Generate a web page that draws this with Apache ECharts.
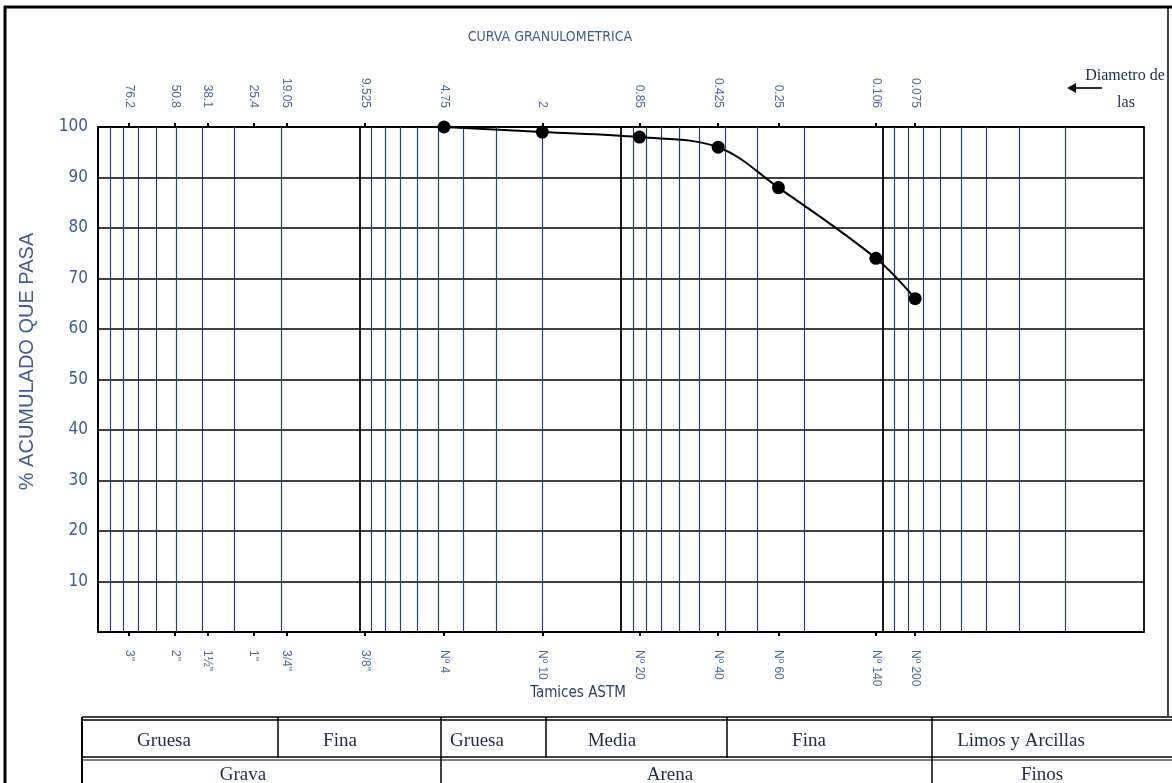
<!DOCTYPE html>
<html><head><meta charset="utf-8">
<script src="https://cdn.jsdelivr.net/npm/echarts@6/dist/echarts.min.js"></script>
<style>html,body{margin:0;padding:0;background:#fff}#c{width:1172px;height:783px}</style>
</head><body><div id="c"></div>
<script>
// ---- data ----
const sieveSizes = [76.2, 50.8, 38.1, 25.4, 19.05, 9.525, 4.75, 2, 0.85, 0.425, 0.25, 0.106, 0.075];
const sizeLabels = ['76.2', '50.8', '38.1', '25.4', '19.05', '9.525', '4.75', '2', '0.85', '0.425', '0.25', '0.106', '0.075'];
const sieveNames = ['3"', '2"', '1½"', '1"', '3/4"', '3/8"', 'Nº 4', 'Nº 10', 'Nº 20', 'Nº 40', 'Nº 60', 'Nº 140', 'Nº 200'];
const testSizes = [4.75, 2, 0.85, 0.425, 0.25, 0.106, 0.075];
const percentPassing = [100, 99, 98, 96, 88, 74, 66];
const decadeLines = [100, 10, 1, 0.1, 0.01];
const minorMultipliers = [2, 3, 4, 5, 6, 7, 8, 9];
const tableRow1 = ['Gruesa', 'Fina', 'Gruesa', 'Media', 'Fina', 'Limos y Arcillas'];
const tableRow2 = ['Grava', 'Arena', 'Finos'];

// ---- helpers ----
function nearestIdx(v) {
  let best = 0, bd = Infinity;
  sieveSizes.forEach((s, i) => { const d = Math.abs(Math.log10(v) - Math.log10(s)); if (d < bd) { bd = d; best = i; } });
  return best;
}
const minorLines = [];
[-2, -1, 0, 1].forEach(k => minorMultipliers.forEach(m => minorLines.push(+(m * Math.pow(10, k)).toPrecision(3))));

const BLUE = '#25406e';
const LBL = '#4a6a9c';
const NARROW = "'Liberation Sans Narrow','Arial Narrow','DejaVu Sans Condensed','Liberation Sans',sans-serif";
const SERIF = "'Liberation Serif','DejaVu Serif',serif";

const baseX = {
  type: 'log', logBase: 10, inverse: true, min: 0.01, max: 100,
  axisLine: { show: true, lineStyle: { color: '#000', width: 2 } },
  axisTick: { show: true, customValues: sieveSizes, length: 4, lineStyle: { color: '#000', width: 2 } },
  splitLine: { show: false }, minorTick: { show: false }
};

const chart = echarts.init(document.getElementById('c'), null, { renderer: 'canvas' });
chart.setOption({
  animation: false,
  backgroundColor: '#fff',
  title: {
    text: 'CURVA GRANULOMETRICA', left: 545, top: 25, textAlign: 'center',
    textStyle: { fontFamily: NARROW, fontSize: 14, fontWeight: 'normal', color: '#3d5c94' }
  },
  grid: { left: 98, right: 28, top: 127, bottom: 151, containLabel: false },
  xAxis: [
    Object.assign({}, baseX, {
      position: 'bottom',
      axisLabel: {
        show: true, customValues: sieveSizes, rotate: -90, margin: 18,
        fontFamily: "'Liberation Sans',sans-serif", fontSize: 12, color: LBL,
        formatter: v => sieveNames[nearestIdx(v)]
      }
    }),
    Object.assign({}, baseX, {
      position: 'top',
      axisLabel: {
        show: true, customValues: sieveSizes, rotate: 90, margin: 19,
        fontFamily: "'Liberation Sans',sans-serif", fontSize: 12, color: LBL,
        formatter: v => sizeLabels[nearestIdx(v)]
      }
    })
  ],
  yAxis: {
    type: 'value', min: 0, max: 100, interval: 10,
    name: '% ACUMULADO QUE PASA', nameLocation: 'middle', nameRotate: 90, nameGap: 61,
    nameTextStyle: { fontFamily: "'Liberation Sans',sans-serif", fontSize: 20, color: '#3d5c94', padding: [0, 0, 0, 36] },
    axisLine: { show: true, lineStyle: { color: '#000', width: 2 } },
    axisTick: { show: false },
    axisLabel: { margin: 10, fontFamily: NARROW, fontSize: 17, color: '#3d5c94', formatter: v => v === 0 ? '' : v },
    splitLine: { show: true, lineStyle: { color: '#000', width: 1.5 } }
  },
  series: [
    {
      type: 'line', data: [], z: 1, silent: true,
      markLine: {
        silent: true, symbol: ['none', 'none'], label: { show: false }, animation: false,
        data: minorLines.map(v => ({ xAxis: v, lineStyle: { color: BLUE, width: 1.2, type: 'solid' } }))
          .concat(decadeLines.map(v => ({ xAxis: v, lineStyle: { color: '#000', width: 1.8, type: 'solid' } })))
      }
    },
    {
      type: 'line', z: 5, xAxisIndex: 0,
      data: testSizes.map((s, i) => [s, percentPassing[i]]),
      smooth: 0.35,
      symbol: 'circle', symbolSize: 13,
      lineStyle: { color: '#000', width: 2 },
      itemStyle: { color: '#000' }
    }
  ],
  graphic: [
    // outer frame
    { type: 'line', shape: { x1: 4, y1: 7, x2: 1172, y2: 7 }, style: { stroke: '#000', lineWidth: 3 } },
    { type: 'line', shape: { x1: 5, y1: 6, x2: 5, y2: 783 }, style: { stroke: '#000', lineWidth: 3 } },
    { type: 'line', shape: { x1: 1168, y1: 7, x2: 1168, y2: 716 }, style: { stroke: '#000', lineWidth: 1.5 } },
    // diameter note
    { type: 'line', shape: { x1: 1074, y1: 88, x2: 1102, y2: 88 }, style: { stroke: '#333', lineWidth: 2 } },
    { type: 'polygon', shape: { points: [[1067, 88], [1076, 83], [1076, 93]] }, style: { fill: '#111' } },
    { type: 'text', x: 1125, y: 76, style: { text: 'Diametro de', fontFamily: SERIF, fontSize: 16, fill: '#1f2a4a', align: 'center', verticalAlign: 'middle' } },
    { type: 'text', x: 1126, y: 103, style: { text: 'las', fontFamily: SERIF, fontSize: 16, fill: '#1f2a4a', align: 'center', verticalAlign: 'middle' } },
    { type: 'text', x: 578, y: 693, style: { text: 'Tamices ASTM', fontFamily: NARROW, fontSize: 15, fill: '#2a3f66', align: 'center', verticalAlign: 'middle' } },
    // table lines
    { type: 'line', shape: { x1: 82, y1: 717, x2: 1172, y2: 717 }, style: { stroke: '#000', lineWidth: 1.5 } },
    { type: 'line', shape: { x1: 82, y1: 720, x2: 1172, y2: 720 }, style: { stroke: '#000', lineWidth: 1.5 } },
    { type: 'line', shape: { x1: 82, y1: 757, x2: 1172, y2: 757 }, style: { stroke: '#000', lineWidth: 1.5 } },
    { type: 'line', shape: { x1: 82, y1: 760, x2: 1172, y2: 760 }, style: { stroke: '#000', lineWidth: 1 } },
    { type: 'line', shape: { x1: 82, y1: 717, x2: 82, y2: 783 }, style: { stroke: '#000', lineWidth: 2 } },
    { type: 'line', shape: { x1: 278, y1: 717, x2: 278, y2: 758 }, style: { stroke: '#000', lineWidth: 1.5 } },
    { type: 'line', shape: { x1: 441, y1: 717, x2: 441, y2: 783 }, style: { stroke: '#000', lineWidth: 1.5 } },
    { type: 'line', shape: { x1: 546, y1: 717, x2: 546, y2: 758 }, style: { stroke: '#000', lineWidth: 1.5 } },
    { type: 'line', shape: { x1: 727, y1: 717, x2: 727, y2: 758 }, style: { stroke: '#000', lineWidth: 1.5 } },
    { type: 'line', shape: { x1: 932, y1: 717, x2: 932, y2: 783 }, style: { stroke: '#000', lineWidth: 1.5 } }
  ].concat(
    [164, 340, 477, 612, 809, 1021].map((x, i) => ({ type: 'text', x: x, y: 741, style: { text: tableRow1[i], fontFamily: SERIF, fontSize: 19, fill: '#1f2a4a', align: 'center', verticalAlign: 'middle' } })),
    [243, 670, 1042].map((x, i) => ({ type: 'text', x: x, y: 775, style: { text: tableRow2[i], fontFamily: SERIF, fontSize: 19, fill: '#1f2a4a', align: 'center', verticalAlign: 'middle' } }))
  )
});
</script>
</body></html>
